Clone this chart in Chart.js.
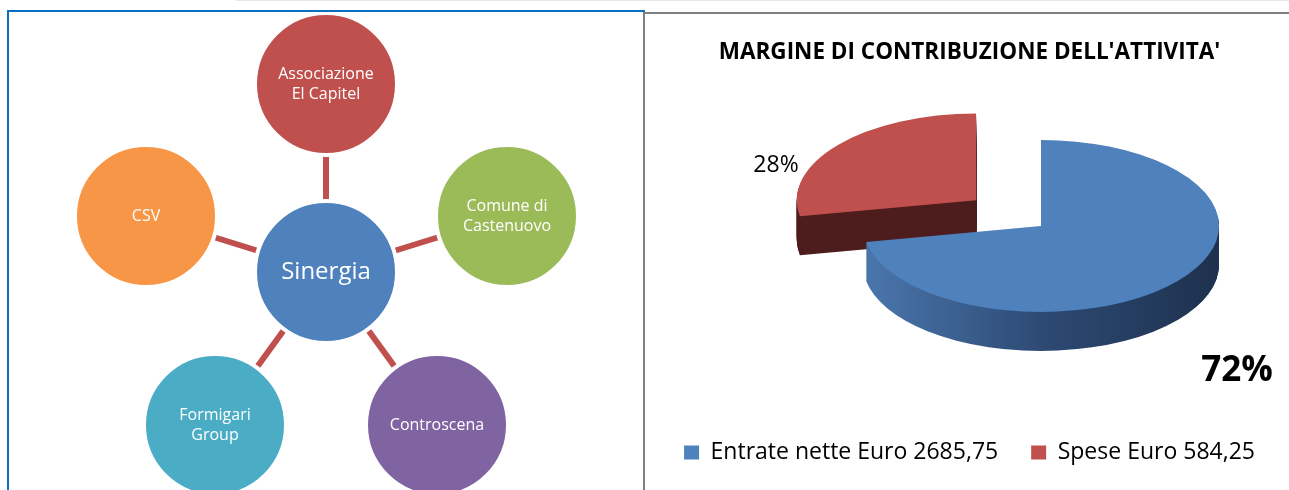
<!DOCTYPE html>
<html>
<head>
<meta charset="utf-8">
<script src="https://cdn.jsdelivr.net/npm/chart.js@4.4.0/dist/chart.umd.min.js"></script>
<style>
  body { margin: 0; background: #fff; width: 1289px; height: 490px; overflow: hidden; position: relative; }
  canvas { position: absolute; }
  #diagram { left: 0; top: 0; }
  #pie { left: 645px; top: 14px; }
  .frame { position: absolute; pointer-events: none; }
  #topline { left: 236px; top: 0; width: 1053px; height: 1px; background: #e6e6e6; }
  #leftBox { left: 7px; top: 10px; width: 636px; height: 490px; border-top: 2px solid #0b6fc1; border-left: 2px solid #0b6fc1; }
  #rightBox { left: 643px; top: 12px; width: 646px; height: 490px; border-top: 2px solid #808080; border-left: 2px solid #808080; }
</style>
</head>
<body>
<canvas id="diagram" width="643" height="490"></canvas>
<canvas id="pie" width="644" height="476"></canvas>
<div class="frame" id="topline"></div>
<div class="frame" id="leftBox"></div>
<div class="frame" id="rightBox"></div>

<script>
// left diagram: centre node first, then the ring
const nodeLabels = ['Sinergia', 'Associazione\nEl Capitel', 'Comune di\nCastenuovo', 'Controscena', 'Formigari\nGroup', 'CSV'];
const nodeX = [326, 326, 507, 437, 215, 146];
const nodeY = [272, 84, 216, 425, 425, 216];
const nodeColors = ['#4f81bd', '#c0504d', '#9bbb59', '#8064a2', '#4bacc6', '#f79646'];

// right pie
const pieTitle = "MARGINE DI CONTRIBUZIONE DELL'ATTIVITA'";
const pieLabels = ['Entrate nette Euro 2685,75', 'Spese Euro 584,25'];
const pieShares = [72, 28];
const pieColors = ['#4f81bd', '#c0504d'];
const pieSideColors = [['#4b77ae', '#2d4a74', '#1e314e'], ['#4e1d1d']];

const nodePoints = nodeX.map((x, i) => ({x: x, y: nodeY[i]}));

const links = nodePoints.slice(1).map(p => ({
  data: [nodePoints[0], p],
  showLine: true,
  borderColor: '#c0504d',
  borderWidth: 6,
  pointRadius: 0,
  order: 2
}));

const nodeText = {
  id: 'nodeText',
  afterDatasetsDraw(chart) {
    const ctx = chart.ctx;
    const pts = chart.getDatasetMeta(0).data;
    ctx.save();
    ctx.fillStyle = '#fff';
    ctx.textAlign = 'center';
    ctx.textBaseline = 'middle';
    pts.forEach((pt, i) => {
      const size = i == 0 ? 24 : 16;
      const lh = i == 0 ? 28 : 20;
      ctx.font = size + 'px "Open Sans"';
      const lines = nodeLabels[i].split('\n');
      lines.forEach((ln, k) => {
        ctx.fillText(ln, pt.x, pt.y + (k - (lines.length - 1) / 2) * lh);
      });
    });
    ctx.restore();
  }
};

new Chart(document.getElementById('diagram'), {
  type: 'scatter',
  data: {
    datasets: [{
      data: nodePoints,
      backgroundColor: nodeColors,
      borderColor: '#fff',
      borderWidth: 4,
      pointRadius: 71,
      order: 1
    }].concat(links)
  },
  options: {
    responsive: false,
    animation: false,
    events: [],
    layout: { padding: 0, autoPadding: false },
    scales: {
      x: { type: 'linear', display: false, min: 0, max: 643 },
      y: { type: 'linear', display: false, min: 0, max: 490, reverse: true }
    },
    plugins: { legend: { display: false }, tooltip: { enabled: false } }
  },
  plugins: [nodeText]
});

// squashes the pie into an ellipse and extrudes it downwards
const pie3d = {
  id: 'pie3d',
  beforeDatasetsDraw(chart, args, opts) {
    const ctx = chart.ctx;
    const arcs = chart.getDatasetMeta(0).data;
    const c = arcs[0];
    const r = c.outerRadius;
    ctx.save();
    ctx.translate(opts.cx, opts.cy);
    ctx.scale(1, opts.tilt);
    ctx.translate(-c.x, -c.y);

    const sides = pieSideColors.map(cols => {
      if (cols.length == 1) return cols[0];
      const g = ctx.createLinearGradient(c.x - r, 0, c.x + r, 0);
      cols.forEach((col, k) => g.addColorStop(k / (cols.length - 1), col));
      return g;
    });

    // back slice first so the front one covers it
    for (let i = arcs.length - 1; i >= 0; i--) {
      const arc = arcs[i];
      const o = arc.options;
      const keep = o.backgroundColor;
      o.backgroundColor = sides[i];
      for (let d = opts.depth; d > 0; d--) {
        ctx.save();
        ctx.translate(0, d / opts.tilt);
        arc.draw(ctx);
        ctx.restore();
      }
      o.backgroundColor = keep;
    }
  },
  afterDatasetsDraw(chart, args, opts) {
    const ctx = chart.ctx;
    ctx.restore();
    const total = pieShares.reduce((a, b) => a + b, 0);
    ctx.save();
    ctx.fillStyle = '#000';
    ctx.textAlign = 'center';
    ctx.textBaseline = 'alphabetic';
    opts.labels.forEach((l, i) => {
      ctx.font = l.font;
      ctx.fillText(Math.round(pieShares[i] / total * 100) + '%', l.x, l.y);
    });
    ctx.restore();
  }
};

new Chart(document.getElementById('pie'), {
  type: 'pie',
  data: {
    labels: pieLabels,
    datasets: [{
      data: pieShares,
      backgroundColor: pieColors,
      borderWidth: 0,
      radius: 178,
      cutout: '0%',
      rotation: 0,
      offset: [0, 336],
      hoverOffset: 0
    }]
  },
  options: {
    responsive: false,
    animation: false,
    events: [],
    layout: { padding: { left: 5, bottom: 16 } },
    plugins: {
      title: {
        display: true,
        text: pieTitle,
        color: '#000',
        font: { family: 'Open Sans', size: 22.5, weight: 'bold' },
        padding: { top: 25, bottom: 10 }
      },
      legend: {
        position: 'bottom',
        labels: {
          color: '#000',
          font: { family: 'Open Sans', size: 23 },
          boxWidth: 15,
          boxHeight: 14,
          padding: 33
        }
      },
      tooltip: { enabled: false },
      pie3d: {
        cx: 396, cy: 212, tilt: 0.483, depth: 39,
        labels: [
          { x: 592, y: 367, font: 'bold 35px "Open Sans"' },
          { x: 131, y: 158, font: '23px "Open Sans"' }
        ]
      }
    }
  },
  plugins: [pie3d]
});
</script>
</body>
</html>
